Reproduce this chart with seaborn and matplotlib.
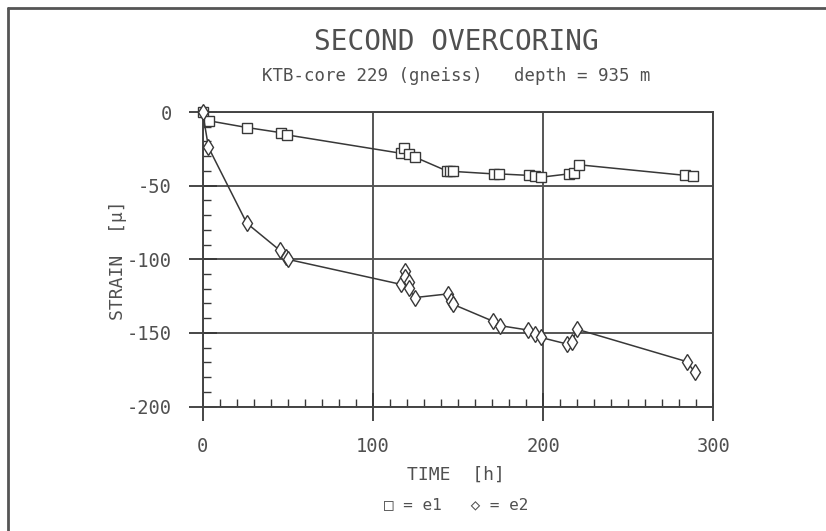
import matplotlib
matplotlib.use("Agg")
import matplotlib.pyplot as plt
import seaborn as sns
import pandas as pd
from matplotlib.lines import Line2D
from matplotlib.ticker import MultipleLocator

# ---- data ----
t_e1 = [0, 4, 26, 46, 49.5, 116.5, 118.5, 121, 124.5, 143.5, 145.5, 147,
        171, 174, 191.5, 195.5, 198.5, 215, 218, 221, 283.5, 288]
s_e1 = [0, -6, -10.5, -14, -15.5, -28, -24.5, -28.7, -30.5, -40, -40, -40.3,
        -42, -42, -43, -43.5, -44.3, -42, -41.5, -35.8, -43, -43.3]

t_e2 = [0, 3.5, 26, 45.5, 49, 50, 116.5, 119, 119, 121, 121, 124.5, 144, 146,
        147, 170.5, 174.5, 191, 195.5, 198.5, 214, 217, 220, 284.5, 289]
s_e2 = [0, -24, -75.5, -94, -98.5, -100, -117, -108, -112, -115.5, -119.5,
        -126, -123.5, -128.5, -130.5, -142, -145, -148, -150.7, -153, -157.5,
        -156, -147.5, -169.5, -176.5]

x_ticks = [0, 100, 200, 300]
y_ticks = [0, -50, -100, -150, -200]

title = "SECOND OVERCORING"
subtitle = "KTB-core 229 (gneiss)   depth = 935 m"
xlabel = "TIME  [h]"
ylabel = "STRAIN  [\u03bc]"
legend_txt = "\u25a1 = e1   \u25c7 = e2"

sns.set_theme(style="white")
plt.rcParams['font.family'] = ['DejaVu Sans Mono', 'DejaVu Sans']
plt.rcParams['axes.unicode_minus'] = False

TXT = "#505050"
LN = "#383838"

df1 = pd.DataFrame({"t": t_e1, "s": s_e1})
df2 = pd.DataFrame({"t": t_e2, "s": s_e2})

fig = plt.figure(figsize=(8.26, 5.31), dpi=100)
ax = fig.add_axes([0.2452, 0.2343, 0.6184, 0.5547])

sns.lineplot(data=df1, x="t", y="s", ax=ax, sort=False, estimator=None,
             color=LN, linewidth=1.1, marker="s", markersize=6.5,
             markerfacecolor="white", markeredgecolor=LN, markeredgewidth=1.0,
             clip_on=False, zorder=5)
sns.lineplot(data=df2, x="t", y="s", ax=ax, sort=False, estimator=None,
             color=LN, linewidth=1.1, marker="d", markersize=8.5,
             markerfacecolor="white", markeredgecolor=LN, markeredgewidth=1.0,
             clip_on=False, zorder=5)

ax.set_xlim(0, 300)
ax.set_ylim(-200, 0)
ax.set_xticks(x_ticks)
ax.set_yticks(y_ticks)
ax.set_xticklabels([str(v) for v in x_ticks])
ax.set_yticklabels([str(v) for v in y_ticks])
ax.xaxis.set_minor_locator(MultipleLocator(10))
ax.yaxis.set_minor_locator(MultipleLocator(10))
ax.tick_params(axis="both", which="both", bottom=True, left=True,
               top=False, right=False)
ax.tick_params(axis="both", which="major", direction="inout", length=20,
               width=1.3, color=LN, labelsize=13.5, labelcolor=TXT, pad=12)
ax.tick_params(axis="both", which="minor", direction="in", length=6,
               width=1.0, color=LN)
ax.grid(True, which="major", color="#555555", linewidth=1.4)
ax.grid(False, which="minor")
for sp in ax.spines.values():
    sp.set_color("#444444")
    sp.set_linewidth(1.4)
ax.set_xlabel("")
ax.set_ylabel("")

fig.text(0.552, 0.921, title, ha="center", va="center", fontsize=20, color=TXT)
fig.text(0.552, 0.857, subtitle, ha="center", va="center", fontsize=12.5, color=TXT)
fig.text(0.552, 0.1055, xlabel, ha="center", va="center", fontsize=13, color=TXT)
fig.text(0.552, 0.049, legend_txt, ha="center", va="center", fontsize=11.5, color=TXT)
fig.text(0.143, 0.51, ylabel, ha="center", va="center", rotation=90,
         fontsize=13, color=TXT)

# outer frame (left and top edges)
fig.add_artist(Line2D([8/826, 8/826], [0, 1 - 8/531], transform=fig.transFigure,
                      color="#555555", linewidth=2))
fig.add_artist(Line2D([8/826, 1], [1 - 8/531, 1 - 8/531], transform=fig.transFigure,
                      color="#555555", linewidth=2))

fig.savefig("out.png", dpi=100)
